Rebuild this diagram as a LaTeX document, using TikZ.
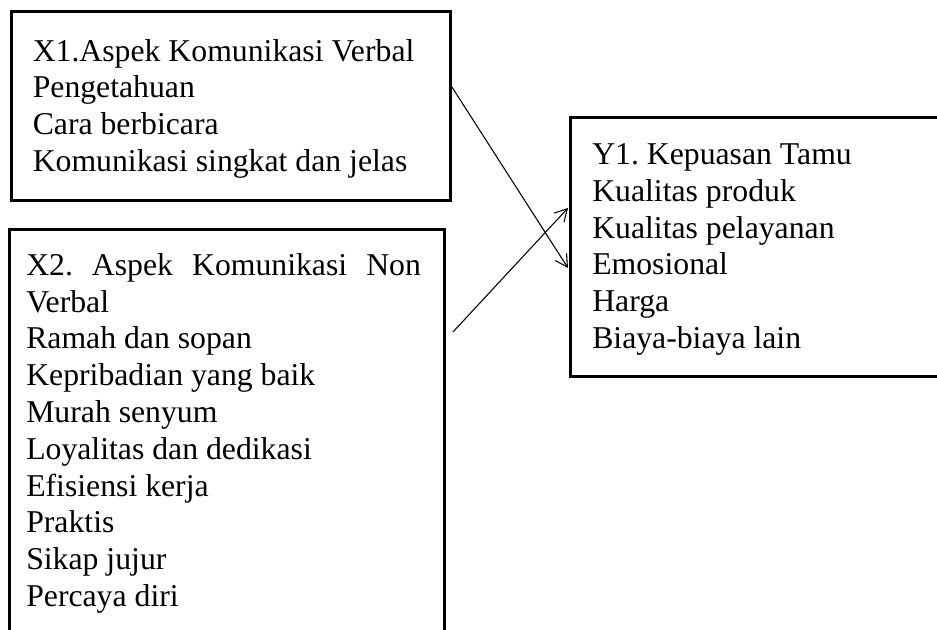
\documentclass[tikz,border=0pt]{standalone}
\usepackage{fontspec}
\setmainfont{Liberation Serif}
\usetikzlibrary{arrows.meta,calc}
\frenchspacing
\begin{document}
\begin{tikzpicture}[x=0.75pt,y=-0.75pt,
  box/.style={draw,line width=2.2pt,inner sep=0pt,anchor=north west},
  lbl/.style={anchor=base west,inner sep=0pt,align=left,font=\fontsize{23.8}{27.6}\selectfont\frenchspacing},
  conn/.style={line width=0.8pt,-{Straight Barb[length=9pt,width=10pt,line width=0.8pt]}}]
\useasboundingbox (0,0) rectangle (937,630);
\clip (0,0) rectangle (937,630);
\node[box,minimum width=329.25pt,minimum height=141.75pt] (x1) at (10,10) {};
\node[box,minimum width=326.25pt,minimum height=324pt] (x2) at (8,228) {};
\node[box,minimum width=293.25pt,minimum height=194.25pt] (y1) at (569,116) {};
\node[lbl] (x1t) at (32.5,171.5) {X1.Aspek Komunikasi Verbal\\Pengetahuan\\Cara berbicara\\Komunikasi singkat dan jelas};
\node[lbl] (x2t) at (26,606.5) {\makebox[296pt][s]{X2. Aspek Komunikasi Non}\\Verbal\\Ramah dan sopan\\Kepribadian yang baik\\Murah senyum\\Loyalitas dan dedikasi\\Efisiensi kerja\\Praktis\\Sikap jujur\\Percaya diri};
\node[lbl] (y1t) at (592,348.5) {Y1. Kepuasan Tamu\\Kualitas produk\\Kualitas pelayanan\\Emosional\\Harga\\Biaya-biaya lain};
\draw[conn] ($(x1.north east)+(0,77)$) -- ($(y1.north west)+(-1,152)$);
\draw[conn] ($(x2.north east)+(7,104)$) -- ($(y1.north west)+(-1,92)$);
\end{tikzpicture}
\end{document}
